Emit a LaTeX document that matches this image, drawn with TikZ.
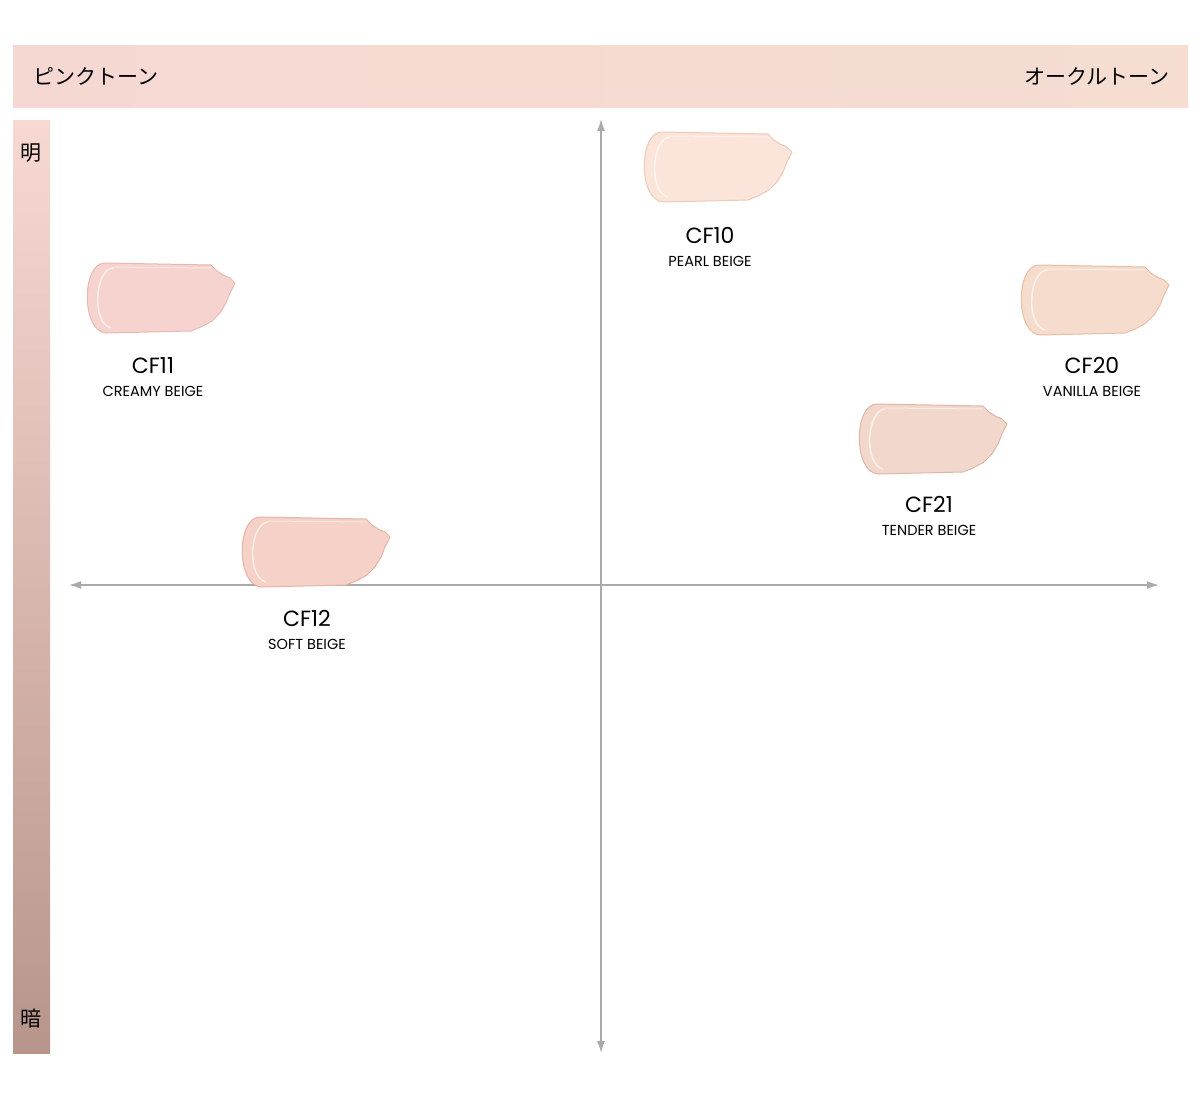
\documentclass[tikz,border=0pt]{standalone}
\usepackage{fontspec}
\setmainfont{Poppins}
\newfontfamily\jp{Noto Sans CJK JP}
\usetikzlibrary{arrows.meta}
\definecolor{barL}{HTML}{F6D8D2}
\definecolor{barR}{HTML}{F5DDD2}
\definecolor{vtop}{HTML}{F7D8D3}
\definecolor{vbot}{HTML}{B8958B}
\definecolor{axis}{HTML}{AAAAAA}
\definecolor{s10}{HTML}{FBE4DA}\definecolor{e10}{HTML}{EDC9B8}
\definecolor{s11}{HTML}{F6D3CE}\definecolor{e11}{HTML}{E8B8B2}
\definecolor{s20}{HTML}{F6DCCC}\definecolor{e20}{HTML}{E6BEA6}
\definecolor{s21}{HTML}{F2D8CC}\definecolor{e21}{HTML}{DDB7A6}
\definecolor{s12}{HTML}{F5D1C7}\definecolor{e12}{HTML}{E4B3A6}
\tikzset{
  ax/.style={axis,line width=1.5pt,{Latex[length=12pt,width=8pt]}-{Latex[length=12pt,width=8pt]}},
  nm/.style={font=\fontsize{22}{24}\selectfont,anchor=base},
  sub/.style={font=\fontsize{14.5}{16}\selectfont,anchor=base},
  jpl/.style={font=\jp\fontsize{21}{24}\selectfont},
  pics/swatch/.style 2 args={code={
    \path[fill=#1,draw=#2,line width=1pt]
      (22,0) -- (128,2) -- (134,8) -- (140,12) -- (147,15) -- (152,20) -- (147,30) -- (143,40) -- (137,50) -- (129,58) -- (118,64) -- (108,68) -- (24,70)
      .. controls (-2,70) and (-2,0) .. (22,0) -- cycle;
    \draw[white,opacity=0.6,line width=1.5pt] (30,5) .. controls (12,6) and (8,60) .. (28,65);
    \draw[white,opacity=0.5,line width=1pt] (30,4) -- (128,5);
  }}
}
\begin{document}
\begin{tikzpicture}[x=1pt,y=-1pt]
\useasboundingbox (0,0) rectangle (1200,1098);
\shade[left color=barL,right color=barR] (13,45) rectangle (1188,107);
\shade[top color=vtop,bottom color=vbot] (13,120) rectangle (50,1053);
\node[jpl,anchor=west] (pink) at (30,76) {ピンクトーン};
\node[jpl,anchor=east] (ochre) at (1173,76) {オークルトーン};
\node[jpl] (light) at (31,153) {明};
\node[jpl] (dark) at (31,1019) {暗};
\coordinate (top) at (601,119);
\coordinate (bot) at (601,1053);
\coordinate (left) at (69,585);
\coordinate (right) at (1159,585);
\draw[ax] (top) -- (bot);
\draw[ax] (left) -- (right);
\pic at (640,132) {swatch={s10}{e10}};
\pic at (83,263) {swatch={s11}{e11}};
\pic at (1017,265) {swatch={s20}{e20}};
\pic at (855,404) {swatch={s21}{e21}};
\pic at (238,517) {swatch={s12}{e12}};
\node[nm] (n10) at (710,243) {CF10};
\node[sub] (s10) at (710,266) {PEARL BEIGE};
\node[nm] (n11) at (153,373) {CF11};
\node[sub] (s11) at (153,396) {CREAMY BEIGE};
\node[nm] (n20) at (1092,373) {CF20};
\node[sub] (s20) at (1092,396) {VANILLA BEIGE};
\node[nm] (n21) at (929,512) {CF21};
\node[sub] (s21) at (929,535) {TENDER BEIGE};
\node[nm] (n12) at (307,626) {CF12};
\node[sub] (s12) at (307,649) {SOFT BEIGE};
\end{tikzpicture}
\end{document}
